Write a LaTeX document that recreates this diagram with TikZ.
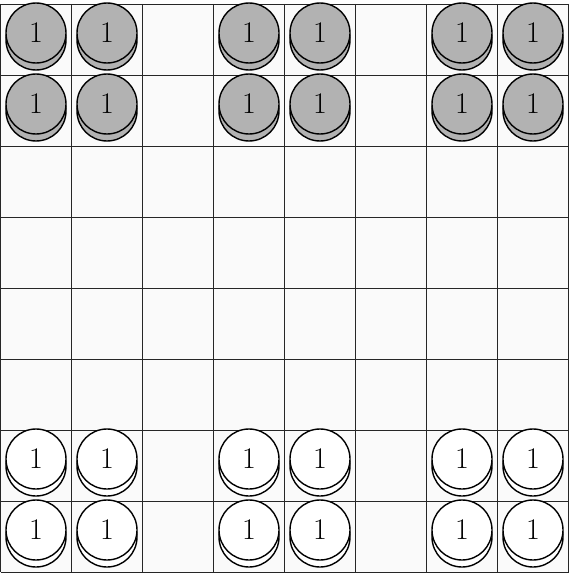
\documentclass[tikz,border=0pt]{standalone}
\begin{document}
\begin{tikzpicture}[x=1pt,y=-1pt,
  cellline/.style={draw=black!85,line width=0.8pt},
  disk/.style={circle,draw=black,line width=1.4pt,minimum size=60pt,inner sep=0pt,font=\fontsize{30}{36}\selectfont},
  darkdisk/.style={disk,fill=black!30},
  lightdisk/.style={disk,fill=white}]
\useasboundingbox (0,0) rectangle (574,578);
\fill[black!2] (0.5,4) rectangle (568.5,572);
\foreach \i in {0,...,8} {
  \draw[cellline] ({0.5+71*\i},4) -- ({0.5+71*\i},572);
  \draw[cellline] (0.5,{4+71*\i}) -- (568.5,{4+71*\i});
}
\foreach \c in {0,1,3,4,6,7} {
  \foreach \r/\s in {0/darkdisk,1/darkdisk,6/lightdisk,7/lightdisk} {
    \node[\s] (base-\c-\r) at ({36+71*\c},{40+71*\r}) {};
    \node[\s] (top-\c-\r) at ({36+71*\c},{33+71*\r}) {1};
  }
}
\end{tikzpicture}
\end{document}
